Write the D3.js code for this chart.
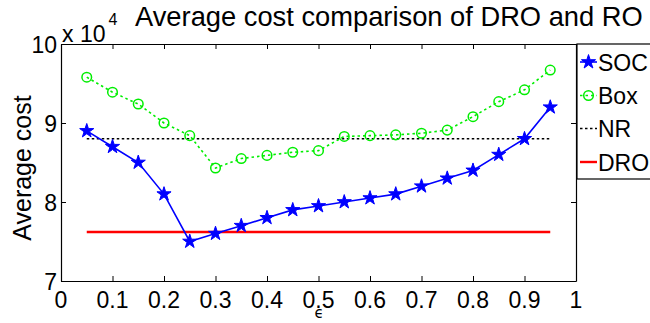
<!DOCTYPE html>
<html>
<head>
<meta charset="utf-8">
<script src="https://cdn.jsdelivr.net/npm/d3@7"></script>
<style>
  html, body { margin: 0; padding: 0; background: #fff; }
  svg { display: block; font-family: "Liberation Sans", Arial, sans-serif; }
</style>
</head>
<body>
<svg id="chart" width="650" height="323"></svg>
<script>
// Risk level epsilon
const epsilons = [0.05, 0.10, 0.15, 0.20, 0.25, 0.30, 0.35, 0.40, 0.45, 0.50,
                  0.55, 0.60, 0.65, 0.70, 0.75, 0.80, 0.85, 0.90, 0.95];
// Average cost (units of 10^4)
const socCost = [8.90, 8.70, 8.50, 8.10, 7.50, 7.60, 7.70, 7.80, 7.90, 7.95,
                 8.00, 8.05, 8.10, 8.20, 8.30, 8.40, 8.60, 8.80, 9.20];
const boxCost = [9.58, 9.39, 9.24, 9.00, 8.84, 8.43, 8.55, 8.59, 8.63, 8.65,
                 8.83, 8.84, 8.85, 8.87, 8.91, 9.08, 9.27, 9.42, 9.67];
const nrCost = 8.80;
const droCost = 7.62;

const xTicks = [0, 0.1, 0.2, 0.3, 0.4, 0.5, 0.6, 0.7, 0.8, 0.9, 1];
const xTickLabels = ["0", "0.1", "0.2", "0.3", "0.4", "0.5", "0.6", "0.7", "0.8", "0.9", "1"];
const yTicks = [7, 8, 9, 10];
const yTickLabels = ["7", "8", "9", "10"];
const legendNames = ["SOC", "Box", "NR", "DRO"];

const svg = d3.select("#chart");
const plotLeft = 61, plotRight = 576, plotTop = 44, plotBottom = 281;

const x = d3.scaleLinear().domain([0, 1]).range([plotLeft, plotRight]);
const y = d3.scaleLinear().domain([7, 10]).range([plotBottom, plotTop]);

const BLUE = "#0000ff", GREEN = "#00ee00", RED = "#ff0000";

// Axes box with inward ticks
const axisG = svg.append("g");
const tickLen = 5;
const axB = d3.axisBottom(x).tickValues(xTicks).tickSize(-tickLen).tickSizeOuter(0).tickFormat("");
const axT = d3.axisTop(x).tickValues(xTicks).tickSize(-tickLen).tickSizeOuter(0).tickFormat("");
const axL = d3.axisLeft(y).tickValues(yTicks).tickSize(-tickLen).tickSizeOuter(0).tickFormat("");
const axR = d3.axisRight(y).tickValues(yTicks).tickSize(-tickLen).tickSizeOuter(0).tickFormat("");
axisG.append("g").attr("transform", `translate(0,${plotBottom})`).call(axB);
axisG.append("g").attr("transform", `translate(0,${plotTop})`).call(axT);
axisG.append("g").attr("transform", `translate(${plotLeft},0)`).call(axL);
axisG.append("g").attr("transform", `translate(${plotRight},0)`).call(axR);
axisG.selectAll(".domain").attr("stroke", "#000").attr("stroke-width", 1.2);
axisG.selectAll(".tick line").attr("stroke", "#000").attr("stroke-width", 1);

// Tick labels
svg.append("g").selectAll("text").data(xTicks).join("text")
  .attr("x", d => x(d)).attr("y", 308)
  .attr("text-anchor", "middle").attr("font-size", 23)
  .text((d, i) => xTickLabels[i]);
svg.append("g").selectAll("text").data(yTicks).join("text")
  .attr("x", 57).attr("y", d => y(d) + 9)
  .attr("text-anchor", "end").attr("font-size", 23)
  .text((d, i) => yTickLabels[i]);

// Exponent label
const expo = svg.append("text").attr("x", 62).attr("y", 42).attr("font-size", 23);
expo.append("tspan").text("x 10");
expo.append("tspan").attr("font-size", 16).attr("dy", -17).attr("dx", 3).text("4");

// Title and axis labels
svg.append("text").attr("x", 135).attr("y", 26).attr("font-size", 27.3)
  .text("Average cost comparison of DRO and RO");
svg.append("text").attr("transform", "translate(31,168) rotate(-90)")
  .attr("text-anchor", "middle").attr("font-size", 25).text("Average cost");
svg.append("text").attr("x", 319).attr("y", 318).attr("text-anchor", "middle")
  .attr("font-size", 15).attr("font-family", "DejaVu Sans").text("\u03F5");

// Reference lines
const xMin = epsilons[0], xMax = epsilons[epsilons.length - 1];
svg.append("line").attr("x1", x(xMin)).attr("x2", x(xMax))
  .attr("y1", y(nrCost)).attr("y2", y(nrCost))
  .attr("stroke", "#000").attr("stroke-width", 1.6).attr("stroke-dasharray", "2.5,2.5");
svg.append("line").attr("x1", x(xMin)).attr("x2", x(xMax))
  .attr("y1", y(droCost)).attr("y2", y(droCost))
  .attr("stroke", RED).attr("stroke-width", 2.4);

// Box series
const line = d3.line().x(d => x(d[0])).y(d => y(d[1]));
const boxPts = epsilons.map((e, i) => [e, boxCost[i]]);
svg.append("path").datum(boxPts).attr("d", line)
  .attr("fill", "none").attr("stroke", GREEN).attr("stroke-width", 1.6)
  .attr("stroke-dasharray", "2.5,3");
svg.append("g").selectAll("circle").data(boxPts).join("circle")
  .attr("cx", d => x(d[0])).attr("cy", d => y(d[1])).attr("r", 4.8)
  .attr("fill", "none").attr("stroke", GREEN).attr("stroke-width", 1.5);

// SOC series
const socPts = epsilons.map((e, i) => [e, socCost[i]]);
svg.append("path").datum(socPts).attr("d", line)
  .attr("fill", "none").attr("stroke", BLUE).attr("stroke-width", 1.6);
const star = d3.symbol().type(d3.symbolStar).size(62);
svg.append("g").selectAll("path").data(socPts).join("path")
  .attr("transform", d => `translate(${x(d[0])},${y(d[1])})`)
  .attr("d", star).attr("fill", BLUE).attr("stroke", BLUE).attr("stroke-width", 1);

// Legend
const lg = svg.append("g");
lg.append("rect").attr("x", 577).attr("y", 44).attr("width", 90).attr("height", 135)
  .attr("fill", "#fff").attr("stroke", "#000").attr("stroke-width", 1.2);
const rowY = [62, 95.5, 128.5, 162];
const lx1 = 580, lx2 = 597, lmx = 588.5;
lg.append("line").attr("x1", lx1).attr("x2", lx2).attr("y1", rowY[0]).attr("y2", rowY[0])
  .attr("stroke", BLUE).attr("stroke-width", 1.6);
lg.append("path").attr("transform", `translate(${lmx},${rowY[0]})`).attr("d", star)
  .attr("fill", BLUE).attr("stroke", BLUE);
lg.append("line").attr("x1", lx1).attr("x2", lx2).attr("y1", rowY[1]).attr("y2", rowY[1])
  .attr("stroke", GREEN).attr("stroke-width", 1.6).attr("stroke-dasharray", "2.5,3");
lg.append("circle").attr("cx", lmx).attr("cy", rowY[1]).attr("r", 4.8)
  .attr("fill", "none").attr("stroke", GREEN).attr("stroke-width", 1.5);
lg.append("line").attr("x1", lx1).attr("x2", lx2).attr("y1", rowY[2]).attr("y2", rowY[2])
  .attr("stroke", "#000").attr("stroke-width", 1.6).attr("stroke-dasharray", "2.5,2.5");
lg.append("line").attr("x1", lx1).attr("x2", lx2).attr("y1", rowY[3]).attr("y2", rowY[3])
  .attr("stroke", RED).attr("stroke-width", 2.4);
lg.selectAll("text").data(legendNames).join("text")
  .attr("x", 598).attr("y", (d, i) => rowY[i] + 8.5)
  .attr("font-size", 23).text(d => d);
</script>
</body>
</html>
